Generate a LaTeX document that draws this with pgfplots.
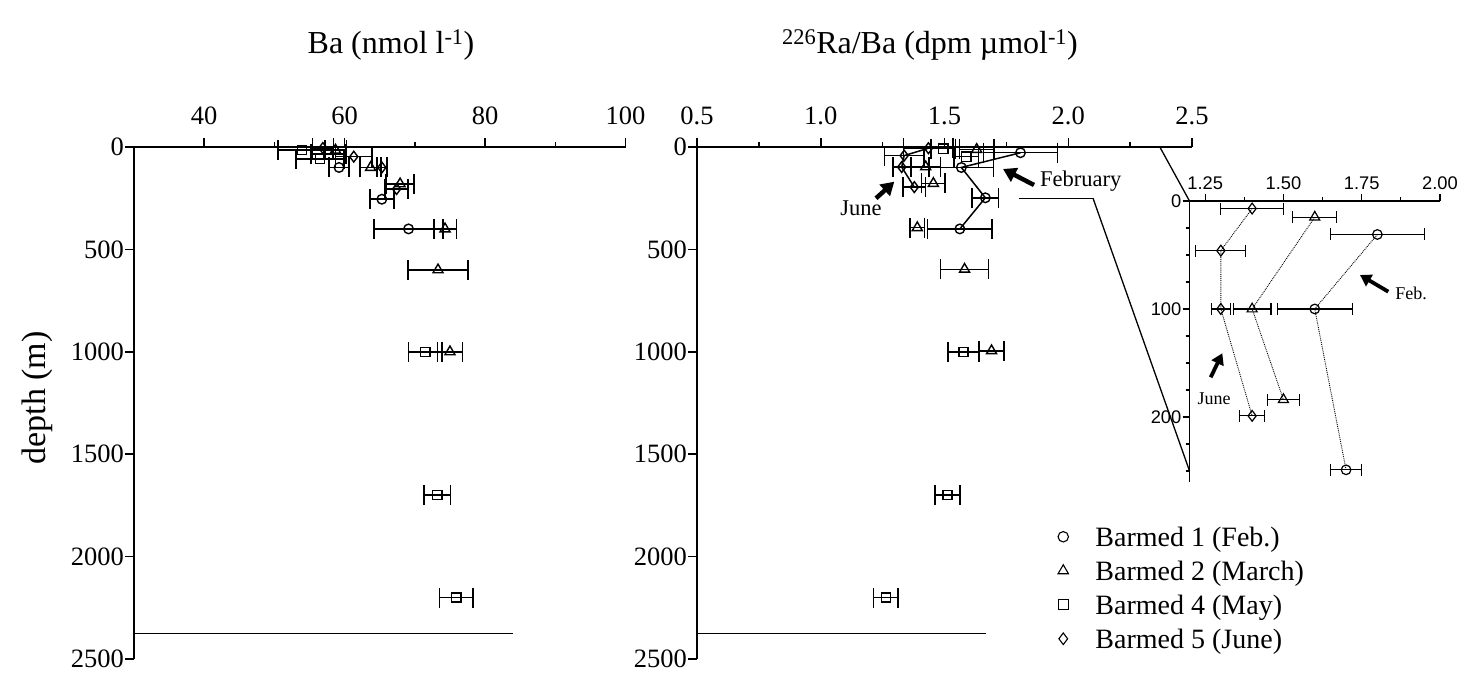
\documentclass[border=0pt]{standalone}
\usepackage{fontspec}
\setmainfont{Liberation Serif}
\setsansfont{Liberation Sans}
\usepackage{pgfplots}
\usepackage{pgfplotstable}
\pgfplotsset{compat=1.18}
\usetikzlibrary{arrows.meta}

% Ba (nmol/l): x  depth  x-error
\pgfplotstableread{
x y ex
59.2 100 1.45
65.3 255 1.7
69.1 400 4.9
}\LFeb
\pgfplotstableread{
x y ex
58.7 15 1.6
63.7 100 1.5
67.9 180 2.0
74.3 400 1.6
73.3 600 4.3
75.0 1000 1.8
}\LMar
\pgfplotstableread{
x y ex
53.9 15 3.4
57.7 35 2.5
56.5 58 3.4
71.5 1000 2.4
73.2 1700 1.9
75.9 2200 2.4
}\LMay
\pgfplotstableread{
x y ex
56.9 5 1.5
61.3 47 2.6
65.3 100 0.7
67.4 205 1.65
}\LJun
% 226Ra/Ba (dpm/umol)
\pgfplotstableread{
x y ex
1.807 28 0.15
1.568 100 0.13
1.665 248 0.053
1.562 400 0.13
}\RFeb
\pgfplotstableread{
x y ex
1.63 12 0.07
1.424 97 0.06
1.455 178 0.047
1.39 394 0.03
1.581 597 0.097
1.69 995 0.05
}\RMar
\pgfplotstableread{
x y ex
1.495 8 0.05
1.588 47 0.05
1.577 1000 0.063
1.512 1700 0.05
1.263 2200 0.05
}\RMay
\pgfplotstableread{
x y ex
1.435 6 0.10
1.337 42 0.08
1.327 98 0.035
1.378 196 0.045
}\RJun
% inset
\pgfplotstableread{
x y ex
1.80 31 0.15
1.60 100 0.12
1.70 249 0.05
}\IFeb
\pgfplotstableread{
x y ex
1.60 15 0.07
1.40 100 0.06
1.50 184 0.05
}\IMar
\pgfplotstableread{
x y ex
1.40 7 0.10
1.30 46 0.08
1.30 100 0.03
1.40 199 0.04
}\IJun

\pgfplotsset{
  mainaxis/.style={scale only axis, height=512pt,
    axis x line*=top, axis y line*=left, y dir=reverse,
    ymin=0, ymax=2500, ytick={0,500,1000,1500,2000,2500},
    tick align=outside, major tick length=9pt, minor tick length=5.5pt,
    tick style={black, line width=1.5pt},
    axis line style={black, line width=2pt},
    tick label style={font=\fontsize{26.5}{26.5}\selectfont, inner sep=1pt},
    xticklabel style={yshift=12pt},
    /pgf/number format/assume math mode=true,
    /pgf/number format/1000 sep={},
    scaled ticks=false, clip=false},
  ser/.style={black, line width=1.5pt, forget plot,
    mark options={solid, fill=white, line width=1.4pt},
    error bars/x dir=both, error bars/x explicit,
    error bars/error bar style={solid, line width=1.5pt},
    error bars/error mark options={solid, black, line width=1.5pt, mark size=10pt, rotate=90}},
  iser/.style={black, line width=0.9pt, densely dotted, forget plot,
    mark options={solid, fill=white, line width=1.2pt},
    error bars/x dir=both, error bars/x explicit,
    error bars/error bar style={solid, line width=1.2pt},
    error bars/error mark options={solid, black, line width=1.2pt, mark size=6pt, rotate=90}},
  mO/.style={mark=o, mark size=4.8pt},
  mT/.style={mark=triangle, mark size=5.8pt},
  mS/.style={mark=square, mark size=4.6pt},
  mD/.style={mark=diamond, mark size=5.4pt},
}

\begin{document}
\begin{tikzpicture}
\useasboundingbox (0,0) rectangle (1472pt,675pt);

% ---------------- left panel: Ba ----------------
\begin{axis}[mainaxis, name=left, width=491.5pt, at={(134pt,16pt)}, anchor=south west,
  xmin=30, xmax=100, xtick={40,60,80,100}, minor xtick={50,70,90},
  ylabel={depth (m)},
  ylabel style={font=\fontsize{34}{34}\selectfont, at={(axis description cs:-0.197,0.51)}, anchor=center}]
\addplot[ser, only marks, mO] table[x=x, y=y, x error=ex] {\LFeb};
\addplot[ser, only marks, mT] table[x=x, y=y, x error=ex] {\LMar};
\addplot[ser, only marks, mS] table[x=x, y=y, x error=ex] {\LMay};
\addplot[ser, only marks, mD] table[x=x, y=y, x error=ex] {\LJun};
\addplot[black, line width=1.5pt, no marks, forget plot] coordinates {(30,2375) (84,2375)};
\end{axis}

% ---------------- right panel: 226Ra/Ba ----------------
\begin{axis}[mainaxis, name=right, width=495pt, at={(697pt,16pt)}, anchor=south west,
  xmin=0.5, xmax=2.5, xtick={0.5,1,1.5,2,2.5}, minor xtick={0.75,1.25,1.75,2.25},
  xticklabel style={/pgf/number format/.cd, fixed, fixed zerofill, precision=1},
  legend cell align=left,
  legend image code/.code={\path (0pt,0pt) (37pt,0pt); \draw[#1] plot coordinates {(5pt,0pt)};},
  legend style={at={(axis description cs:0.729,0.266)}, anchor=north west, draw=none, fill=none,
    inner sep=0pt, row sep=6.5pt, font=\fontsize{28}{28}\selectfont,
    nodes={inner sep=0pt, text height=23pt, text depth=4.5pt}}]
\addlegendimage{only marks, mark=o, mark size=5.2pt, mark options={line width=1.1pt}}
\addlegendentry{Barmed 1 (Feb.)}
\addlegendimage{only marks, mark=triangle, mark size=6pt, mark options={line width=1.1pt}}
\addlegendentry{Barmed 2 (March)}
\addlegendimage{only marks, mark=square, mark size=5pt, mark options={line width=1.1pt}}
\addlegendentry{Barmed 4 (May)}
\addlegendimage{only marks, mark=diamond, mark size=5.8pt, mark options={line width=1.1pt}}
\addlegendentry{Barmed 5 (June)}
\addplot[ser, mO] table[x=x, y=y, x error=ex] {\RFeb};
\addplot[ser, only marks, mT] table[x=x, y=y, x error=ex] {\RMar};
\addplot[ser, only marks, mS] table[x=x, y=y, x error=ex] {\RMay};
\addplot[ser, mD] table[x=x, y=y, x error=ex] {\RJun};
\addplot[black, line width=1.5pt, no marks, forget plot] coordinates {(0.5,2375) (1.667,2375)};
\addplot[black, line width=1.3pt, no marks, forget plot] coordinates {(1.80,250) (2.10,250)};
\coordinate (b0) at (axis cs:2.37,0);
\coordinate (b250) at (axis cs:2.10,250);
\end{axis}

% ---------------- inset ----------------
\begin{axis}[name=inset, scale only axis, width=250.5pt, height=280.7pt,
  at={(1189.5pt,193.3pt)}, anchor=south west,
  axis x line*=top, axis y line*=left, y dir=reverse,
  xmin=1.2, xmax=2, ymin=0, ymax=260,
  xtick={1.25,1.5,1.75,2}, minor xtick={1.375,1.625,1.875},
  ytick={0,100,200}, minor ytick={25,50,75,125,150,175,225,250},
  tick align=outside, major tick length=7pt, minor tick length=4pt,
  tick style={black, line width=1.2pt},
  axis line style={black, line width=1.6pt},
  tick label style={font=\sffamily\fontsize{18.3}{18.3}\selectfont, inner sep=1pt},
  xticklabel style={yshift=3.5pt, /pgf/number format/.cd, fixed, fixed zerofill, precision=2},
  /pgf/number format/assume math mode=true,
  scaled ticks=false, clip=false]
\addplot[iser, mO] table[x=x, y=y, x error=ex] {\IFeb};
\addplot[iser, mT] table[x=x, y=y, x error=ex] {\IMar};
\addplot[iser, mD] table[x=x, y=y, x error=ex] {\IJun};
\coordinate (i0) at (axis cs:1.2,0);
\coordinate (i250) at (axis cs:1.2,250);
\end{axis}

\draw[black, line width=1.3pt] (b0) -- (i0);
\draw[black, line width=1.3pt] (b250) -- (i250);

% titles
\node[font=\fontsize{32}{32}\selectfont] at (391pt,630pt) {Ba (nmol l\textsuperscript{-1})};
\node[font=\fontsize{32}{32}\selectfont] at (930pt,630pt) {\textsuperscript{226}Ra/Ba (dpm µmol\textsuperscript{-1})};

% annotations
\node[font=\fontsize{22.5}{22.5}\selectfont, anchor=west, inner sep=0pt] at (1040pt,494pt) {February};
\draw[line width=4.5pt, -{Triangle[length=13pt,width=15pt]}] (1034pt,490pt) -- (1003pt,506pt);
\node[font=\fontsize{22.5}{22.5}\selectfont, inner sep=0pt] at (861pt,467pt) {June};
\draw[line width=4.5pt, -{Triangle[length=13pt,width=15pt]}] (876pt,476.7pt) -- (894.3pt,493.3pt);
\node[font=\fontsize{18}{18}\selectfont, inner sep=0pt] at (1411pt,382pt) {Feb.};
\draw[line width=3.8pt, -{Triangle[length=11pt,width=13pt]}] (1388.3pt,383.3pt) -- (1360pt,400pt);
\node[font=\fontsize{18}{18}\selectfont, inner sep=0pt] at (1214pt,276pt) {June};
\draw[line width=3.8pt, -{Triangle[length=11pt,width=13pt]}] (1210.7pt,297.7pt) -- (1222.3pt,321.7pt);
\end{tikzpicture}
\end{document}
